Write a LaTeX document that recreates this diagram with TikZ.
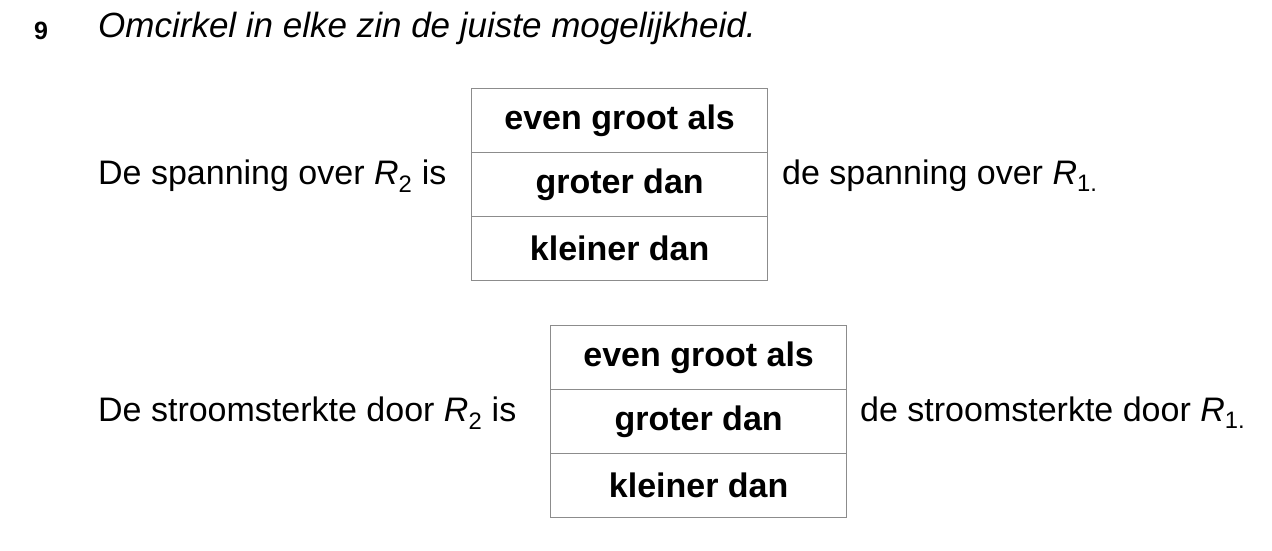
\documentclass[tikz,border=0pt]{standalone}
\usepackage{fontspec}
\setmainfont{Liberation Sans}
\begin{document}
\begin{tikzpicture}[x=1pt,y=-1pt,
  txt/.style={anchor=base west,inner sep=0pt,font=\fontsize{34}{40}\selectfont},
  cell/.style={draw=black!45,line width=1.3pt,minimum width=296pt,minimum height=64pt,inner sep=0pt,anchor=north west,font=\fontsize{34}{40}\selectfont\bfseries}]
\useasboundingbox (0,0) rectangle (1272,551);
\node[txt,font=\fontsize{25}{30}\selectfont\bfseries] (num) at (34,40) {9};
\node[txt,font=\fontsize{35}{42}\selectfont\itshape] (q) at (98,38) {Omcirkel in elke zin de juiste mogelijkheid.};
\node[txt] (s1) at (98,184) {De spanning over \textit{R}\textsubscript{2} is};
\node[cell] (a1) at (471,88) {even groot als};
\node[cell] (a2) at (471,152) {groter dan};
\node[cell] (a3) at (471,216) {kleiner dan};
\node[txt] (e1) at (782,184) {de spanning over \textit{R}\textsubscript{1.}};
\node[txt] (s2) at (98,421) {De stroomsterkte door \textit{R}\textsubscript{2} is};
\node[cell] (b1) at (550,325) {even groot als};
\node[cell] (b2) at (550,389) {groter dan};
\node[cell] (b3) at (550,453) {kleiner dan};
\node[txt] (e2) at (860,421) {de stroomsterkte door \textit{R}\textsubscript{1.}};
\end{tikzpicture}
\end{document}
